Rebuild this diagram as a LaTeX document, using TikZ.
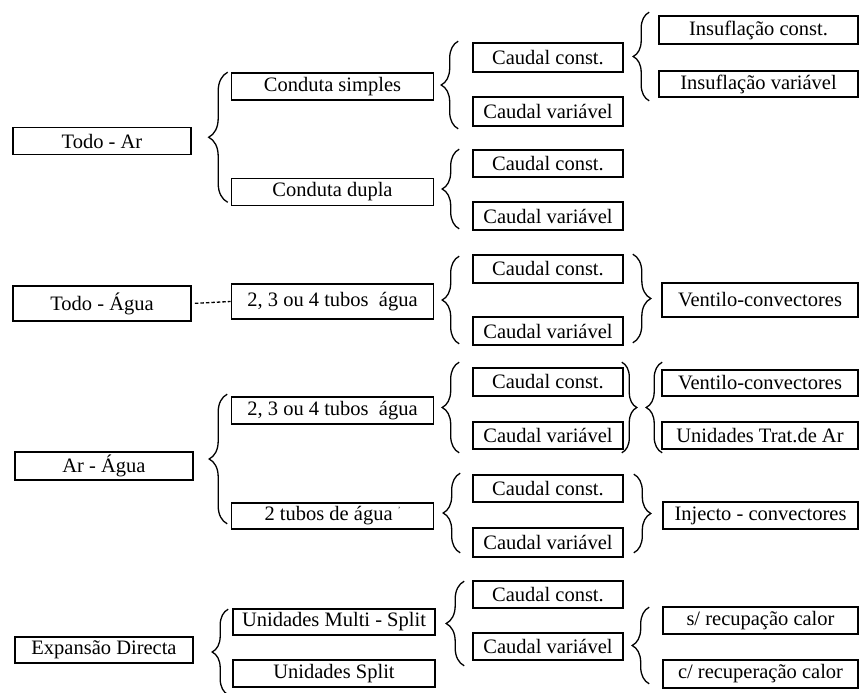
\documentclass[tikz,border=0pt]{standalone}
\usepackage{fontspec}
\setmainfont{Liberation Serif}
\usetikzlibrary{decorations.pathreplacing}
\newcommand\heavytxt[1]{\special{pdf:literal direct 2 Tr 0.35 w}#1\special{pdf:literal direct 0 Tr}}
\begin{document}
\begin{tikzpicture}[x=1pt,y=-1pt,
  box/.style={draw, line width=1.6pt, inner sep=0pt, minimum height=27pt,
    font=\fontsize{20.5}{24}\selectfont, execute at begin node=\heavytxt\bgroup, execute at end node=\egroup},
  c1/.style={box, minimum width=178pt},
  c2/.style={box, minimum width=202pt},
  c3/.style={box, minimum width=150pt},
  c4/.style={box, minimum width=196pt},
  lbr/.style={decorate, decoration={brace, amplitude=#1}, line width=1.3pt},
  lbr/.default=17pt,
  dashconn/.style={line width=1.3pt, dash pattern=on 3.5pt off 2pt}
]
\useasboundingbox (0,0) rectangle (860,693);

% ---- Todo - Ar
\node[c1] (todoar) at (102,141) {Todo - Ar};
\node[c2] (cs) at (332.5,86.5) {Conduta simples};
\node[c2] (cd) at (332.5,192) {Conduta dupla};
\node[c3, minimum height=29pt] (cc1) at (548,57.5) {Caudal const.};
\node[c3, minimum height=29pt] (cv1) at (548,111.5) {Caudal variável};
\node[c4, minimum width=199pt, minimum height=28pt] (insc) at (758.5,30) {Insuflação const.};
\node[c4, minimum width=199pt, minimum height=26pt] (insv) at (758.5,84) {Insuflação variável};
\node[c3] (cc2) at (548,163.5) {Caudal const.};
\node[c3, minimum height=28pt] (cv2) at (548,216) {Caudal variável};

\draw[lbr=19pt] ([xshift=-3pt,yshift=4pt]cd.south west) -- ([xshift=-3pt]cs.north west);
\draw[lbr] ([shift={(-14,2)}]cv1.south west) -- ([shift={(-14,-1)}]cc1.north west);
\draw[lbr=16pt] ([shift={(-9,3)}]insv.south west) -- ([shift={(-9,-3)}]insc.north west);
\draw[lbr] ([shift={(-13,-2)}]cv2.south west) -- ([shift={(-13,0)}]cc2.north west);

% ---- Todo - Agua
\node[c1, minimum height=35pt] (todoagua) at (102,303.5) {Todo - Água};
\node[c2, minimum height=35pt] (tubos1) at (332.5,301.5) {2, 3 ou 4 tubos\ \ água};
\node[c3, minimum height=28pt] (cc3) at (548,269) {Caudal const.};
\node[c3, minimum height=28pt] (cv3) at (548,331) {Caudal variável};
\node[c4, minimum height=34pt] (vc1) at (760,300) {Ventilo-convectores};

\draw[dashconn, shorten <=3pt] (todoagua.east) -- (tubos1.west);
\draw[lbr] ([shift={(-13,-2)}]cv3.south west) -- ([shift={(-13,2)}]cc3.north west);
\draw[lbr=18pt] ([shift={(9,0)}]cc3.north east) -- ([shift={(9,-3)}]cv3.south east);

% ---- Ar - Agua
\node[c1, minimum height=28pt] (aragua) at (104,466) {Ar - Água};
\node[c2] (tubos2) at (332.5,410.5) {2, 3 ou 4 tubos\ \ água};
\node[c2, minimum height=26pt] (tubos3) at (332.5,516) {2 tubos de água\ \raisebox{0.9ex}{\fontsize{8}{8}\selectfont '}};
\node[c3, minimum height=28pt] (cc4) at (548,382) {Caudal const.};
\node[c3] (cv4) at (548,435.5) {Caudal variável};
\node[c4, minimum height=26pt] (vc2) at (760,383) {Ventilo-convectores};
\node[c4] (uta) at (760,435.5) {Unidades Trat.de Ar};
\node[c3] (cc5) at (548,488.5) {Caudal const.};
\node[c3, minimum height=29pt] (cv5) at (548,542.5) {Caudal variável};
\node[c4, minimum width=195pt] (inj) at (760.5,515.5) {Injecto - convectores};

\draw[lbr=18pt] ([shift={(-3.5,-6)}]tubos3.south west) -- ([shift={(-3.5,-2)}]tubos2.north west);
\draw[lbr] ([shift={(-13,3)}]cv4.south west) -- ([shift={(-13,-5)}]cc4.north west);
\draw[lbr=15pt] ([shift={(-2,-5)}]cc4.north east) -- ([shift={(-2,3)}]cv4.south east);
\draw[lbr=16pt] ([shift={(1,3)}]uta.south west) -- ([shift={(1,-7)}]vc2.north west);
\draw[lbr] ([shift={(-12,-5)}]cv5.south west) -- ([shift={(-12,-1)}]cc5.north west);
\draw[lbr] ([shift={(10,0)}]cc5.north east) -- ([shift={(10,-5)}]cv5.south east);

% ---- Expansao Directa
\node[c1, minimum height=26pt] (expd) at (104,650) {Expansão Directa};
\node[c2, minimum height=26pt] (multi) at (334,622) {Unidades Multi - Split};
\node[c2] (split) at (334,673.5) {Unidades Split};
\node[c3] (cc6) at (548,594.5) {Caudal const.};
\node[c3] (cv6) at (548,646.5) {Caudal variável};
\node[c4, minimum width=195pt] (srec) at (760.5,620.5) {s/ recupação calor};
\node[c4, minimum width=195pt, minimum height=28pt] (crec) at (760.5,674) {c/ recuperação calor};

\draw[lbr=16pt] ([shift={(-4,7)}]split.south west) -- ([shift={(-4,1)}]multi.north west);
\draw[lbr=18pt] ([shift={(-8,5)}]cv6.south west) -- ([shift={(-8,1)}]cc6.north west);
\draw[lbr] ([shift={(-13,-5)}]crec.south west) -- ([shift={(-13,1)}]srec.north west);
\end{tikzpicture}
\end{document}
